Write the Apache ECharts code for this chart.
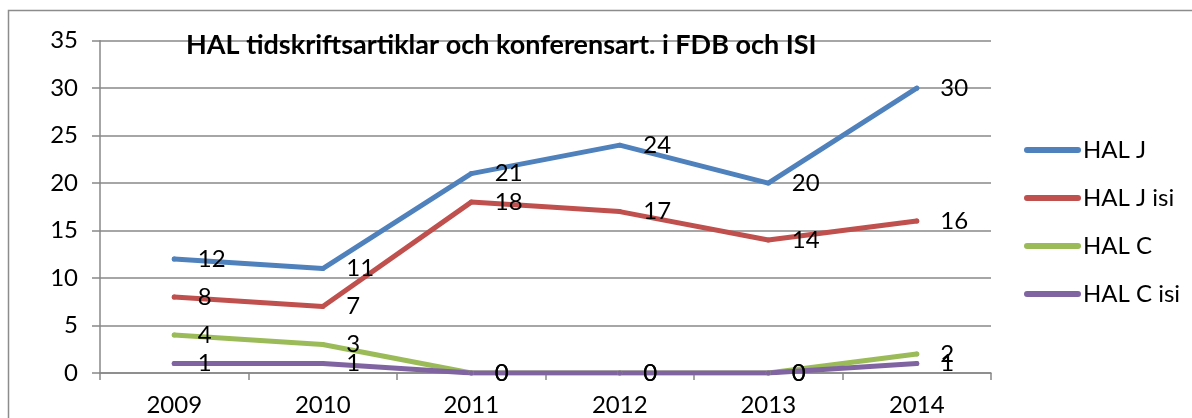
<!DOCTYPE html>
<html>
<head>
<meta charset="utf-8">
<script src="https://cdn.jsdelivr.net/npm/echarts@6/dist/echarts.min.js"></script>
<style>
  html, body { margin: 0; padding: 0; background: #fff; }
  #chart { width: 1192px; height: 418px; }
</style>
</head>
<body>
<div id="chart"></div>
<script>
// data
const years = ['2009', '2010', '2011', '2012', '2013', '2014']
const seriesNames = ['HAL J', 'HAL J isi', 'HAL C', 'HAL C isi']
const halJ = [12, 11, 21, 24, 20, 30]
const halJIsi = [8, 7, 18, 17, 14, 16]
const halC = [4, 3, 0, 0, 0, 2]
const halCIsi = [1, 1, 0, 0, 0, 1]
const lineColors = ['#4F81BD', '#C0504D', '#9BBB59', '#8064A2']

const FONT = 'Lato, "Open Sans", sans-serif'

function makeSeries (idx, data) {
    return {
        name: seriesNames[idx],
        type: 'line',
        data: data,
        symbol: 'circle',
        symbolSize: 5,
        showSymbol: true,
        itemStyle: { color: lineColors[idx], borderWidth: 0 },
        lineStyle: { color: lineColors[idx], width: 5, cap: 'round', join: 'round' },
        label: {
            show: true,
            position: 'right',
            distance: 21,
            color: '#000',
            fontFamily: FONT,
            fontSize: 24
        },
        emphasis: { disabled: true },
        animation: false
    }
}

const chart = echarts.init(document.getElementById('chart'))
chart.setOption({
    animation: false,
    title: {
        text: 'HAL tidskriftsartiklar och konferensart. i FDB och ISI',
        left: 186,
        top: 32,
        padding: 0,
        textStyle: { fontFamily: FONT, fontWeight: 'bold', fontSize: 27, color: '#000' }
    },
    graphic: [{
        type: 'rect',
        shape: { x: 8.5, y: 10.5, width: 1200, height: 420 },
        style: { fill: 'none', stroke: '#8c8c8c', lineWidth: 1.5 },
        silent: true
    }],
    legend: {
        orient: 'vertical',
        left: 1019,
        top: 132,
        itemWidth: 51,
        itemHeight: 6,
        itemGap: 22,
        data: seriesNames,
        itemStyle: { opacity: 0 },
        lineStyle: { width: 6, cap: 'round', opacity: 1 },
        textStyle: { fontFamily: FONT, fontSize: 24, color: '#000', lineHeight: 26 }
    },
    grid: { left: 100, right: 201, top: 40.7, bottom: 45 },
    xAxis: {
        type: 'category',
        data: years,
        boundaryGap: true,
        axisLine: { lineStyle: { color: '#888', width: 1.5 } },
        axisTick: { show: true, length: 7, lineStyle: { color: '#888', width: 1.5 } },
        axisLabel: { fontFamily: FONT, fontSize: 24, color: '#000', margin: 20 },
        splitLine: { show: false }
    },
    yAxis: {
        type: 'value',
        min: 0,
        max: 35,
        interval: 5,
        axisLine: { show: true, lineStyle: { color: '#888', width: 1.5 } },
        axisTick: { show: true, length: 8, lineStyle: { color: '#888', width: 1.5 } },
        axisLabel: { fontFamily: FONT, fontSize: 24, color: '#000', margin: 22 },
        splitLine: { lineStyle: { color: '#888', width: 1.5 } }
    },
    series: [
        makeSeries(0, halJ),
        makeSeries(1, halJIsi),
        makeSeries(2, halC),
        makeSeries(3, halCIsi)
    ]
})
</script>
</body>
</html>
